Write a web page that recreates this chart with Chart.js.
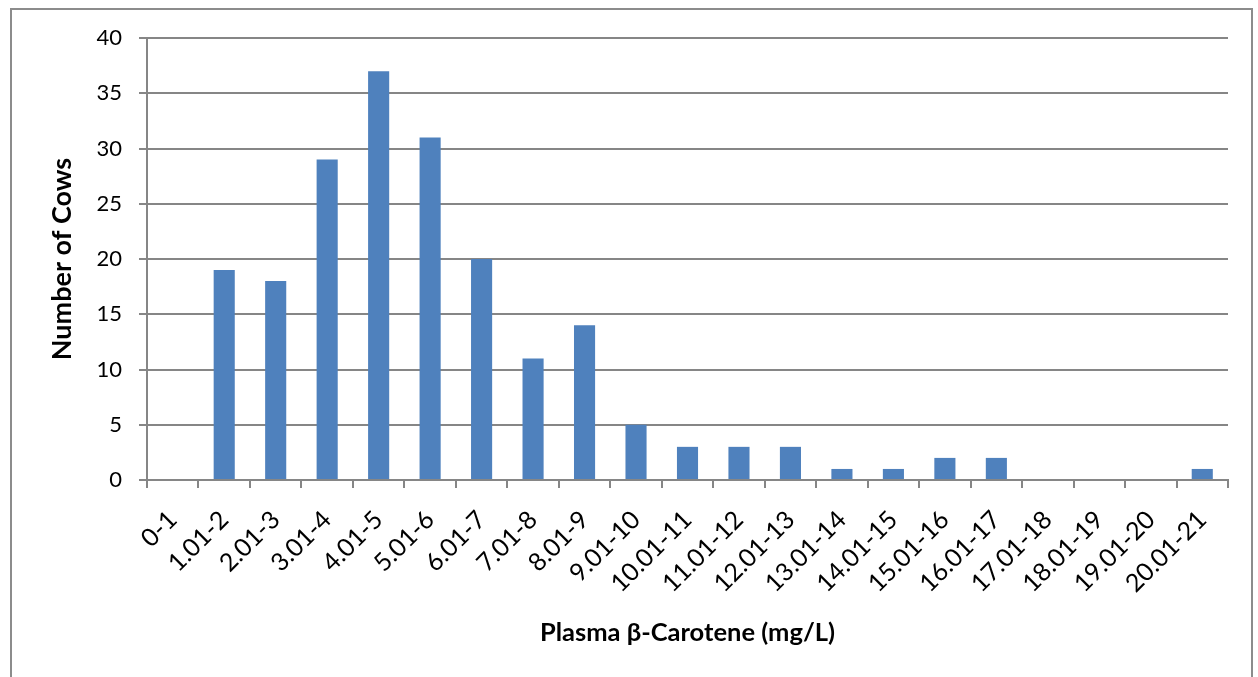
<!DOCTYPE html>
<html>
<head>
<meta charset="utf-8">
<script src="https://cdn.jsdelivr.net/npm/chart.js@4.4.0/dist/chart.umd.min.js"></script>
<style>
  html, body { margin: 0; padding: 0; background: #fff; }
  #wrap { position: relative; width: 1258px; height: 677px; overflow: hidden; }
  #frame { position: absolute; left: 10px; top: 8px; width: 1243px; height: 680px; border: 2px solid #8c8c8c; box-sizing: border-box; }
  canvas { position: absolute; left: 0; top: 0; }
</style>
</head>
<body>
<div id="wrap">
  <div id="frame"></div>
  <canvas id="chartCows" width="1258" height="677"></canvas>
</div>
<script>
// bins of plasma beta-carotene (mg/L)
const categories = ['0-1', '1.01-2', '2.01-3', '3.01-4', '4.01-5', '5.01-6', '6.01-7', '7.01-8', '8.01-9', '9.01-10',
    '10.01-11', '11.01-12', '12.01-13', '13.01-14', '14.01-15', '15.01-16', '16.01-17', '17.01-18', '18.01-19', '19.01-20', '20.01-21'];
// number of cows in each bin
const cowCounts = [0, 19, 18, 29, 37, 31, 20, 11, 14, 5, 3, 3, 3, 1, 1, 2, 2, 0, 0, 0, 1];
const yTicks = [0, 5, 10, 15, 20, 25, 30, 35, 40];

const axisColor = '#868686';
const fontFamily = 'Lato, "Open Sans", sans-serif';

var ctx = document.getElementById("chartCows");

const chartCows = new Chart(ctx, {
    type: 'bar',
    data: {
        labels: categories,
        datasets: [{
            label: 'Number of Cows',
            data: cowCounts,
            backgroundColor: '#4F81BD',
            borderWidth: 0,
            barPercentage: 0.41,
            categoryPercentage: 1.0
        }]
    },
    options: {
        responsive: false,
        animation: false,
        layout: { padding: { left: 0, top: 38, right: 30, bottom: 0 } },
        plugins: {
            legend: { display: false },
            tooltip: { enabled: false }
        },
        scales: {
            x: {
                grid: { drawOnChartArea: false, offset: true, tickLength: 8, color: axisColor, lineWidth: 2 },
                border: { color: axisColor, width: 2 },
                ticks: {
                    color: '#000',
                    font: { family: fontFamily, size: 25 },
                    minRotation: 45,
                    maxRotation: 45,
                    autoSkip: false,
                    padding: 17
                },
                title: {
                    display: true,
                    text: 'Plasma β-Carotene (mg/L)',
                    color: '#000',
                    font: { family: fontFamily, size: 25.5, weight: 'bold' },
                    padding: { top: 0, bottom: 29 }
                },
                afterFit: function (scale) { scale.height = 197; }
            },
            y: {
                min: 0,
                max: 40,
                afterBuildTicks: function (scale) { scale.ticks = yTicks.map(v => ({ value: v })); },
                grid: { color: axisColor, lineWidth: 2, tickLength: 8 },
                border: { color: axisColor, width: 2 },
                ticks: {
                    color: '#000',
                    font: { family: fontFamily, size: 22 },
                    padding: 17
                },
                title: {
                    display: true,
                    text: 'Number of Cows',
                    color: '#000',
                    font: { family: fontFamily, size: 27, weight: 'bold' },
                    padding: { top: 46, bottom: 0 }
                },
                afterFit: function (scale) { scale.width = 147; }
            }
        }
    }
});
</script>
</body>
</html>
